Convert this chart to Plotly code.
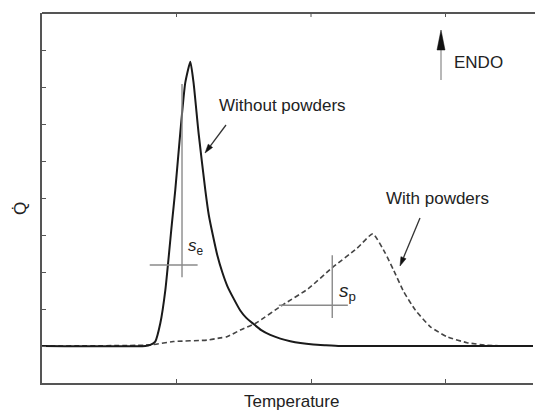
import math
import plotly.graph_objects as go

# DSC-style heat flow curves (arbitrary units)
temp_without = [0.0, 0.768, 0.805, 0.842, 0.880, 0.917, 0.966, 0.991, 1.028, 1.065,
                1.103, 1.127, 1.164, 1.214, 1.240, 1.270, 1.303, 1.340, 1.378, 1.422,
                1.474, 1.519, 1.571, 1.630, 1.697, 1.772, 1.846, 1.921, 2.017, 2.107,
                2.218, 2.515, 3.665]
q_without = [1.0, 1.0, 1.03, 1.12, 1.62, 2.51, 4.32, 5.22, 6.76, 8.11,
             8.68, 8.11, 6.76, 5.22, 4.54, 4.00, 3.46, 3.00, 2.62, 2.30,
             1.96, 1.76, 1.60, 1.43, 1.30, 1.20, 1.13, 1.08, 1.04, 1.02,
             1.0, 1.0, 1.0]

temp_with = [0.0, 0.805, 0.976, 1.227, 1.326, 1.375, 1.474, 1.586, 1.794, 1.980,
             2.156, 2.342, 2.459, 2.552, 2.614, 2.689, 2.776, 2.888, 3.011, 3.160,
             3.309, 3.482, 3.665]
q_with = [1.0, 1.03, 1.12, 1.16, 1.22, 1.25, 1.43, 1.61, 2.12, 2.55,
          3.11, 3.64, 4.03, 3.51, 3.05, 2.47, 1.97, 1.52, 1.25, 1.09,
          1.02, 1.0, 1.0]

x_ticks = [1, 2, 3]

# slope construction crosses (data units)
se_v_x, se_v_y = 1.041, (2.86, 8.08)
se_h_y, se_h_x = 3.19, (0.801, 1.157)
sp_v_x, sp_v_y = 2.158, (1.76, 3.45)
sp_h_y, sp_h_x = 2.10, (1.761, 2.274)

W, H = 535, 410
ML, MR, MT, MB = 42, 2, 13, 27
PX_PER_X = 134.5
X_MAX = (W - ML - MR) / PX_PER_X
Y_MAX = 10.0
FONT = "Liberation Sans, Arial, sans-serif"
INK = "#222222"
FRAME = "#555555"


def px(xp):
    return (xp - ML) / (W - ML - MR) * X_MAX


def py(yp):
    return (H - MB - yp) / (H - MT - MB) * Y_MAX


def paper_x(xp):
    return (xp - ML) / (W - ML - MR)


def paper_y(yp):
    return (H - MB - yp) / (H - MT - MB)


def arrow(x0, y0, x1, y1, line_color, head_color, head_len=9, head_w=6, width=1.3):
    """Straight arrow between two screen points with a filled triangular head."""
    dx, dy = x1 - x0, y1 - y0
    L = math.hypot(dx, dy)
    ux, uy = dx / L, dy / L
    bx, by = x1 - ux * head_len, y1 - uy * head_len
    nx, ny = -uy, ux
    p1 = (bx + nx * head_w / 2, by + ny * head_w / 2)
    p2 = (bx - nx * head_w / 2, by - ny * head_w / 2)
    shaft = dict(type="line", xref="x", yref="y",
                 x0=px(x0), y0=py(y0), x1=px(bx), y1=py(by),
                 line=dict(color=line_color, width=width))
    head = dict(type="path", xref="x", yref="y",
                path=f"M {px(x1)},{py(y1)} L {px(p1[0])},{py(p1[1])} "
                     f"L {px(p2[0])},{py(p2[1])} Z",
                fillcolor=head_color, line=dict(color=head_color, width=0.5))
    return [shaft, head]


fig = go.Figure()

fig.add_trace(go.Scatter(
    x=temp_with, y=q_with, mode="lines", name="With powders",
    line=dict(color="#444444", width=1.6, dash="5px,3px", shape="spline", smoothing=0.5),
))
fig.add_trace(go.Scatter(
    x=temp_without, y=q_without, mode="lines", name="Without powders",
    line=dict(color="#1a1a1a", width=2.0, shape="spline", smoothing=0.5),
))

cross = dict(color="#8a8a8a", width=1.4)
shapes = [
    dict(type="line", xref="x", yref="y", x0=se_v_x, x1=se_v_x, y0=se_v_y[0], y1=se_v_y[1], line=cross),
    dict(type="line", xref="x", yref="y", x0=se_h_x[0], x1=se_h_x[1], y0=se_h_y, y1=se_h_y, line=cross),
    dict(type="line", xref="x", yref="y", x0=sp_v_x, x1=sp_v_x, y0=sp_v_y[0], y1=sp_v_y[1], line=cross),
    dict(type="line", xref="x", yref="y", x0=sp_h_x[0], x1=sp_h_x[1], y0=sp_h_y, y1=sp_h_y, line=cross),
    # top edge of the frame runs out to the page edge
    dict(type="line", xref="paper", yref="paper", x0=0, x1=1.02, y0=1, y1=1,
         line=dict(color=FRAME, width=2)),
]
for t in x_ticks:
    shapes.append(dict(type="line", xref="x", yref="y", x0=t, x1=t,
                       y0=Y_MAX, y1=Y_MAX - 4 / 37, line=dict(color=FRAME, width=1)))
shapes += arrow(226, 125, 205, 153, "#333333", "#111111", head_len=9, head_w=5.5)
shapes += arrow(420, 218, 400, 266, "#333333", "#111111", head_len=9, head_w=5.5)
shapes += arrow(441, 80, 441, 30, "#a0a0a0", "#111111", head_len=20, head_w=8, width=1.5)

txt = dict(family=FONT, size=17, color=INK)
annotations = [
    dict(x=px(282), y=py(105), text="Without powders", showarrow=False, font=txt,
         xanchor="center", yanchor="middle"),
    dict(x=px(437.5), y=py(198), text="With powders", showarrow=False, font=txt,
         xanchor="center", yanchor="middle"),
    dict(x=px(452), y=py(62), text="ENDO", showarrow=False, font=txt,
         xanchor="left", yanchor="middle"),
    dict(x=px(186), y=py(247), text="<i>s</i><sub>e</sub>", showarrow=False,
         font=dict(family=FONT, size=17, color=INK), xanchor="left", yanchor="middle"),
    dict(x=px(337), y=py(292), text="<i>s</i><sub>p</sub>", showarrow=False,
         font=dict(family=FONT, size=19, color=INK), xanchor="left", yanchor="middle"),
    dict(xref="paper", yref="paper", x=paper_x(291), y=paper_y(402), text="Temperature",
         showarrow=False, font=txt, xanchor="center", yanchor="middle"),
    dict(xref="paper", yref="paper", x=paper_x(21), y=paper_y(209), text="Q\u0307",
         showarrow=False, font=txt, textangle=-90, xanchor="center", yanchor="middle"),
]

fig.update_layout(
    width=W, height=H,
    margin=dict(l=ML, r=MR, t=MT, b=MB, pad=0),
    paper_bgcolor="white", plot_bgcolor="white",
    showlegend=False,
    shapes=shapes,
    annotations=annotations,
    xaxis=dict(range=[0, X_MAX], showline=True, linecolor=FRAME, linewidth=2,
               mirror=False, ticks="inside", ticklen=4, tickwidth=1, tickcolor=FRAME,
               tickvals=x_ticks, showticklabels=False, showgrid=False, zeroline=False),
    yaxis=dict(range=[0, Y_MAX], showline=True, linecolor=FRAME, linewidth=2,
               mirror=False, ticks="inside", ticklen=4, tickwidth=1, tickcolor=FRAME,
               tick0=0, dtick=1, showticklabels=False, showgrid=False, zeroline=False),
)

fig.write_html("out.html")
